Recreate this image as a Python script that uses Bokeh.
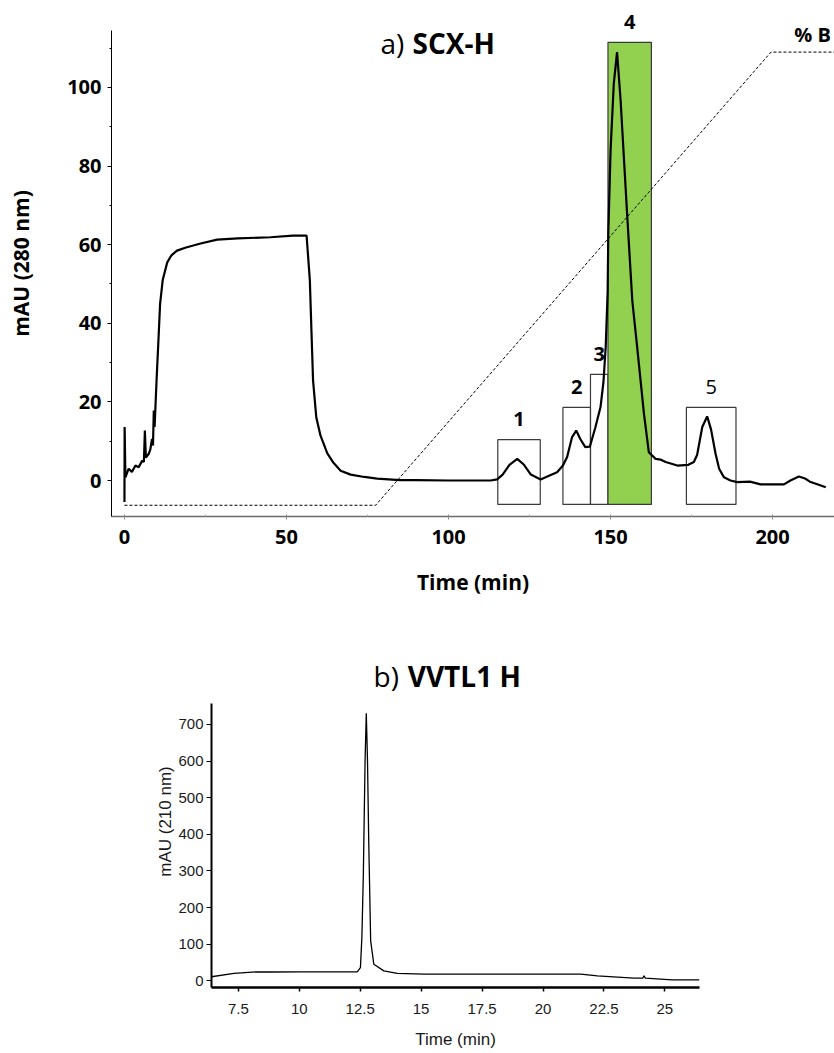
from bokeh.plotting import figure
from bokeh.models import Range1d, FixedTicker, Label
from bokeh.embed import file_html
from bokeh.resources import INLINE

# ---------------- data: a) SCX-H chromatogram ----------------
scx_time = [0, 0.05, 0.3, 1.3, 2.3, 3.4, 4.4, 5.5, 6.0, 6.3, 6.6, 7.5, 8.0, 8.5, 8.8,
            9.05, 9.3, 9.9, 10.5, 11.0, 11.8, 13.2, 14.5, 16.2, 19.0, 23.5, 28.6, 35,
            45, 52, 56.2, 57.2, 57.7, 58.2, 59.2, 60.5, 62.6, 64.5, 66.7, 69.8, 74, 78,
            85, 90, 100, 113, 115, 116.7, 118.8, 121.2, 123.3, 125.4, 128.4, 131,
            133.5, 135.3, 136.6, 138.1, 139.4, 140.7, 142.2, 143.6, 145.3, 146.9,
            147.8, 148.5, 149.1, 149.3, 150.0, 151.0, 152.0, 153.1, 154.1, 155.1,
            156.7, 158.2, 160.3, 161.8, 163.9, 165.5, 167, 170.6, 174, 175.7, 176.7,
            178.3, 179.8, 181.0, 182.4, 183.5, 185, 187, 189.1, 193, 196.3, 200,
            203.5, 205.5, 208.1, 210, 211.5, 214, 216.4]
scx_mau = [-5.5, 13.6, 0.8, 3.0, 2.2, 3.8, 3.4, 5.1, 4.7, 12.7, 5.8, 6.8, 8.0, 10.6, 8.9,
           17.8, 13.6, 25.4, 36, 45, 51, 55.5, 57.3, 58.5, 59.3, 60.3, 61.3, 61.6,
           61.9, 62.3, 62.3, 51, 38, 25.4, 16, 11.4, 6.9, 4.5, 2.5, 1.5, 0.9, 0.5,
           0.1, 0.1, 0.0, 0.0, 0.3, 1.5, 4.0, 5.5, 4.0, 1.5, 0.25, 1.2,
           2.1, 3.8, 6.0, 11.0, 12.7, 10.5, 8.5, 8.6, 13.5, 18.7,
           25, 34, 48, 63, 84, 101, 109, 96.7, 82.3, 67.9,
           45.8, 34, 17, 7.2, 5.5, 5.3, 4.7, 3.8, 4.0, 4.7, 6.5,
           13.6, 16.3, 13, 6.8, 3.0, 0.8, 0.0, -0.4, -0.3, -1.0, -1.0,
           -1.0, 0.0, 1.0, 0.5, -0.3, -1.0, -1.7]

# gradient (% B)
grad_time = [0, 77.5, 199.5, 222]
grad_pct = [0, 0, 100, 100]

# collected fractions
frac_names = ["1", "2", "3", "4", "5"]
frac_start = [115.2, 135.3, 143.8, 149.2, 173.4]
frac_end = [128.3, 143.8, 149.2, 162.6, 188.7]
frac_top = [10.4, 18.6, 27.0, 111.5, 18.6]
frac_bottom = [-6.1, -6.1, -6.1, -6.1, -6.1]
frac_bold = [True, True, True, True, False]
frac_fill = ["white", "white", "white", "#92D050", "white"]
frac_alpha = [0, 0, 0, 1, 0]

y1_ticks = [0, 20, 40, 60, 80, 100]
y1_minor = [10, 30, 50, 70, 90, 110]
x1_ticks = [0, 50, 100, 150, 200]
x1_minor = [25, 75, 125, 175]

# ---------------- data: b) VVTL1 H ----------------
vv_time = [6.4, 7.32, 8.28, 8.8, 10.06, 12.38, 12.51, 12.57, 12.63, 12.70, 12.75,
           12.80, 12.85, 12.93, 13.06, 13.47, 14.02, 15.12, 17.03, 20.04, 21.55,
           22.23, 23.73, 24.10, 24.14, 24.2, 25.3, 26.42]
vv_mau = [11, 20, 24.6, 24, 24.6, 24.6, 36, 120, 292, 600, 730,
          600, 382, 109, 45, 27, 20, 18, 18, 18, 18,
          13.7, 7.3, 7.3, 13.7, 7.3, 2.7, 2.7]
y2_ticks = [0, 100, 200, 300, 400, 500, 600, 700]
x2_ticks = [7.5, 10, 12.5, 15, 17.5, 20, 22.5, 25]
x2_labels = ["7.5", "10", "12.5", "15", "17.5", "20", "22.5", "25"]

# ---------------- style ----------------
BOLD_FONT = "Open Sans"
ARIAL = "Liberation Sans"
LABEL_GAP = 5.2   # data units between a fraction box top and its number

# ---------------- figure a ----------------
p1 = figure(width=834, height=608, output_backend="svg", toolbar_location=None,
            x_range=Range1d(-4.0, 219.1), y_range=Range1d(-9.16, 119.59),
            min_border_left=111, min_border_right=0, min_border_top=10,
            min_border_bottom=92)
p1.outline_line_color = None
p1.grid.visible = False
# %B axis mapping: 0 % -> -6.3 mAU, 100 % -> 109 mAU
p1.extra_y_ranges = {"pct": Range1d(-2.48, 109.18)}

p1.quad(left=frac_start, right=frac_end, top=frac_top, bottom=frac_bottom,
        fill_color=frac_fill, fill_alpha=frac_alpha, line_color="#3a3a3a",
        line_width=1.2)
p1.line(grad_time, grad_pct, y_range_name="pct", line_color="black",
        line_width=1, line_dash="3 2")
p1.line(scx_time, scx_mau, line_color="black", line_width=2.2)

for name, s, e, t, b in zip(frac_names, frac_start, frac_end, frac_top, frac_bold):
    p1.add_layout(Label(x=(s + e) / 2, y=t + LABEL_GAP, text=name,
                        text_align="center", text_baseline="alphabetic",
                        text_font=BOLD_FONT, text_font_size="20px",
                        text_font_style="bold" if b else "normal",
                        text_color="black"))

p1.add_layout(Label(x=218.0, y=113.5, text="% B", text_align="right",
                    text_baseline="alphabetic", text_font=BOLD_FONT,
                    text_font_size="20px", text_font_style="bold",
                    text_color="black"))
p1.add_layout(Label(x=79.0, y=111.2, text="a)", text_align="left",
                    text_baseline="alphabetic", text_font=BOLD_FONT,
                    text_font_size="28px", text_font_style="normal",
                    text_color="black"))
p1.add_layout(Label(x=88.9, y=111.2, text="SCX-H", text_align="left",
                    text_baseline="alphabetic", text_font=BOLD_FONT,
                    text_font_size="28px", text_font_style="bold",
                    text_color="black"))

ya = p1.yaxis[0]
ya.bounds = (-9.16, 114.5)
ya.ticker = FixedTicker(ticks=y1_ticks, minor_ticks=y1_minor)
ya.axis_line_color = "black"
ya.axis_line_width = 1
ya.major_tick_in = 0
ya.major_tick_out = 4
ya.minor_tick_in = 0
ya.minor_tick_out = 2
ya.major_label_standoff = 6
ya.major_label_text_font = BOLD_FONT
ya.major_label_text_font_style = "bold"
ya.major_label_text_font_size = "20px"
ya.major_label_text_color = "black"
ya.axis_label = "mAU (280 nm)"
ya.axis_label_text_font = BOLD_FONT
ya.axis_label_text_font_style = "bold"
ya.axis_label_text_font_size = "21px"
ya.axis_label_text_color = "black"
ya.axis_label_standoff = 29

xa = p1.xaxis[0]
xa.ticker = FixedTicker(ticks=x1_ticks, minor_ticks=x1_minor)
xa.axis_line_color = "#6b6b6b"
xa.axis_line_width = 1.5
xa.major_tick_in = 2
xa.major_tick_out = 3
xa.major_tick_line_color = "#888888"
xa.minor_tick_in = 2
xa.minor_tick_out = 0
xa.minor_tick_line_color = "#aaaaaa"
xa.major_label_standoff = 10
xa.major_label_text_font = BOLD_FONT
xa.major_label_text_font_style = "bold"
xa.major_label_text_font_size = "20px"
xa.major_label_text_color = "black"
xa.axis_label = "Time (min)"
xa.axis_label_text_font = BOLD_FONT
xa.axis_label_text_font_style = "bold"
xa.axis_label_text_font_size = "21px"
xa.axis_label_text_color = "black"
xa.axis_label_standoff = 21

# ---------------- figure b ----------------
p2 = figure(width=834, height=445, output_backend="svg", toolbar_location=None,
            x_range=Range1d(6.4, 26.42), y_range=Range1d(-18.3, 888),
            min_border_left=211, min_border_right=135, min_border_top=47,
            min_border_bottom=66)
p2.outline_line_color = None
p2.grid.visible = False
p2.line(vv_time, vv_mau, line_color="black", line_width=1.3)

p2.add_layout(Label(x=13.05, y=831, text="b)", text_align="left",
                    text_baseline="alphabetic", text_font=BOLD_FONT,
                    text_font_size="28px", text_font_style="normal",
                    text_color="black"))
p2.add_layout(Label(x=14.45, y=831, text="VVTL1 H", text_align="left",
                    text_baseline="alphabetic", text_font=BOLD_FONT,
                    text_font_size="28px", text_font_style="bold",
                    text_color="black"))

yb = p2.yaxis[0]
yb.bounds = (-18.3, 757)
yb.ticker = FixedTicker(ticks=y2_ticks)
yb.axis_line_color = "black"
yb.axis_line_width = 2
yb.major_tick_in = 0
yb.major_tick_out = 5
yb.minor_tick_out = 0
yb.minor_tick_in = 0
yb.major_label_standoff = 3
yb.major_label_text_font = ARIAL
yb.major_label_text_font_size = "15px"
yb.major_label_text_color = "#1a1a1a"
yb.axis_label = "mAU (210 nm)"
yb.axis_label_text_font = ARIAL
yb.axis_label_text_font_style = "normal"
yb.axis_label_text_font_size = "17px"
yb.axis_label_text_color = "#1a1a1a"
yb.axis_label_standoff = 0

xb = p2.xaxis[0]
xb.ticker = FixedTicker(ticks=x2_ticks)
xb.major_label_overrides = dict(zip(x2_ticks, x2_labels))
xb.axis_line_color = "black"
xb.axis_line_width = 2.5
xb.major_tick_in = 0
xb.major_tick_out = 4
xb.major_tick_line_width = 1.5
xb.minor_tick_out = 0
xb.minor_tick_in = 0
xb.major_label_standoff = 12
xb.major_label_text_font = ARIAL
xb.major_label_text_font_size = "15px"
xb.major_label_text_color = "#1a1a1a"
xb.axis_label = "Time (min)"
xb.axis_label_text_font = ARIAL
xb.axis_label_text_font_style = "normal"
xb.axis_label_text_font_size = "17px"
xb.axis_label_text_color = "#1a1a1a"
xb.axis_label_standoff = 13

open("out.html", "w").write(file_html([p1, p2], INLINE))
